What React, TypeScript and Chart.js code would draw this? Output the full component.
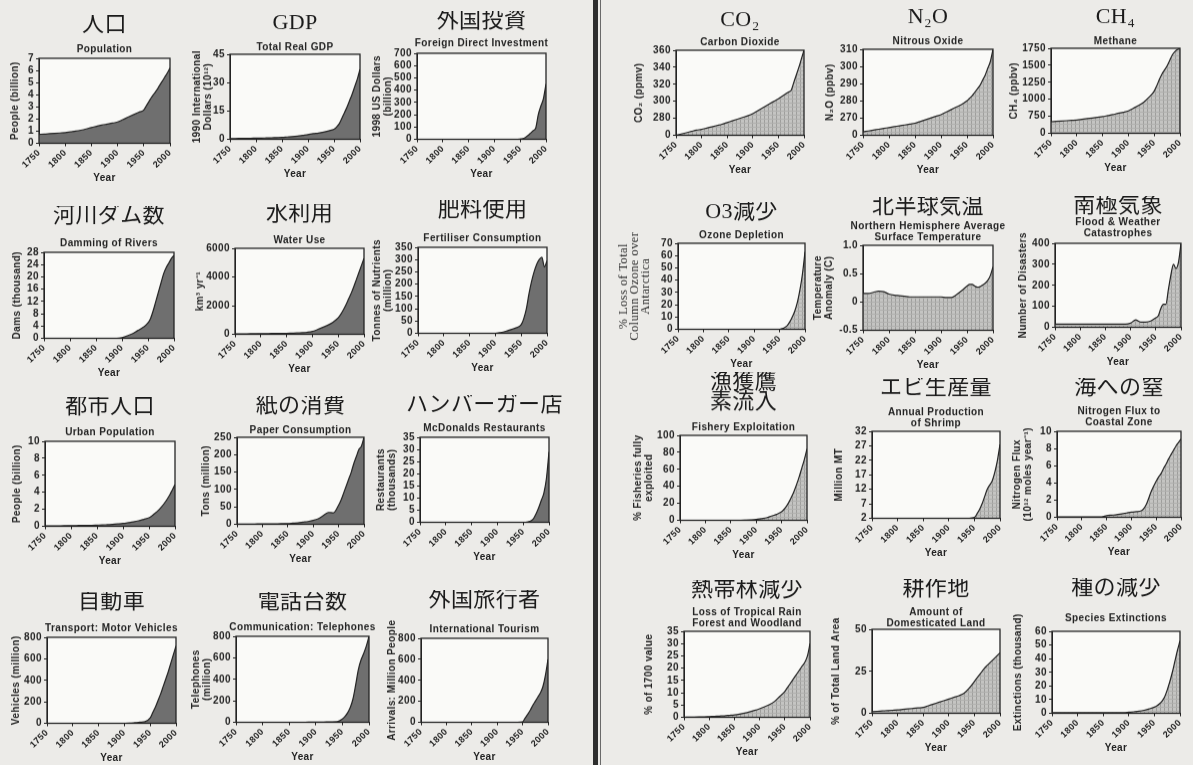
import React, { useEffect, useRef } from 'react';
import { Chart, registerables } from 'chart.js';

Chart.register(...registerables);

const SANS = "'Liberation Sans', Arial, sans-serif";
const SERIF_JP = "'Liberation Serif', 'Noto Sans CJK JP', serif";
const SERIF = "'Liberation Serif', 'DejaVu Serif', serif";

// ---------- data ----------
const YEARS = [1750, 1760, 1770, 1780, 1790, 1800, 1810, 1820, 1830, 1840, 1850, 1860, 1870, 1880, 1890, 1900, 1910, 1920, 1930, 1940, 1950, 1955, 1960, 1965, 1970, 1975, 1980, 1985, 1990, 1995, 2000];
const X_TICKS = [1750, 1800, 1850, 1900, 1950, 2000];

const POPULATION = [0.74, 0.76, 0.79, 0.82, 0.85, 0.88, 0.94, 1.0, 1.08, 1.18, 1.3, 1.4, 1.5, 1.58, 1.66, 1.76, 1.95, 2.15, 2.35, 2.55, 2.75, 3.1, 3.45, 3.8, 4.1, 4.4, 4.75, 5.1, 5.45, 5.8, 6.2];
const GDP = [0.4, 0.4, 0.45, 0.5, 0.5, 0.6, 0.6, 0.7, 0.8, 0.9, 1.0, 1.2, 1.4, 1.7, 2.1, 2.5, 3.0, 3.3, 3.8, 4.5, 5.3, 6.5, 8.2, 11, 14, 17, 20.5, 24, 28, 32, 37];
const FDI = [0, 0, 0, 0, 0, 0, 0, 0, 0, 0, 0, 0, 0, 0, 0, 0, 0, 0, 0, 0, 2, 5, 15, 30, 50, 70, 90, 200, 270, 330, 450];
const DAMS = [0, 0, 0, 0, 0, 0, 0, 0, 0, 0, 0, 0, 0, 0, 0, 0.2, 0.8, 1.5, 2.5, 3.5, 5, 6.5, 9, 12, 15, 18, 21, 23, 24.5, 26, 27];
const WATER = [30, 32, 35, 38, 40, 45, 50, 55, 60, 65, 70, 80, 90, 110, 140, 200, 330, 480, 640, 850, 1150, 1400, 1700, 2050, 2450, 2850, 3300, 3800, 4300, 4800, 5300];
const FERTILISER = [0, 0, 0, 0, 0, 0, 0, 0, 0, 0, 0, 0, 0, 0, 0, 0, 3, 8, 15, 22, 35, 60, 100, 160, 210, 250, 280, 300, 310, 270, 295];
const URBAN = [0.05, 0.05, 0.06, 0.06, 0.07, 0.08, 0.09, 0.1, 0.11, 0.12, 0.14, 0.16, 0.19, 0.22, 0.27, 0.33, 0.42, 0.52, 0.65, 0.82, 1.0, 1.2, 1.45, 1.7, 2.0, 2.35, 2.75, 3.2, 3.7, 4.3, 4.9];
const PAPER = [0.5, 0.5, 0.6, 0.7, 0.8, 0.9, 1, 1.2, 1.4, 1.7, 2, 3, 4, 6, 8, 11, 16, 25, 34, 33, 55, 70, 90, 110, 130, 150, 175, 195, 215, 225, 250];
const MCDONALDS = [0, 0, 0, 0, 0, 0, 0, 0, 0, 0, 0, 0, 0, 0, 0, 0, 0, 0, 0, 0, 0, 0, 0.2, 0.6, 1.5, 3.5, 6, 9, 12, 18, 29];
const VEHICLES = [0, 0, 0, 0, 0, 0, 0, 0, 0, 0, 0, 0, 0, 0, 0, 0.1, 1, 5, 10, 15, 50, 100, 150, 210, 270, 340, 410, 480, 560, 640, 720];
const TELEPHONES = [0, 0, 0, 0, 0, 0, 0, 0, 0, 0, 0, 0, 0, 0.1, 0.5, 1, 2, 3, 4, 5, 30, 55, 90, 140, 220, 350, 490, 580, 640, 710, 800];
const TOURISM = [0, 0, 0, 0, 0, 0, 0, 0, 0, 0, 0, 0, 0, 0, 0, 0, 0, 0, 0, 0, 5, 40, 75, 115, 160, 200, 240, 280, 340, 450, 600];

const CO2 = [260, 261.5, 263, 264.5, 266, 267, 268.5, 270, 271.5, 273, 275, 277, 279, 281, 283, 285.5, 289, 292.5, 296, 299.5, 303, 305, 307, 309, 311, 313, 322, 331, 340, 350, 360];
const N2O = [262, 262.5, 263, 263.5, 264, 264.5, 265, 265.5, 266, 266.5, 267, 268, 269, 270, 271, 272, 273.5, 275, 276.5, 278, 280, 281.5, 283, 285, 287, 289, 292, 295, 299, 303, 310];
const CH4 = [670, 675, 680, 685, 690, 695, 705, 715, 725, 735, 745, 760, 775, 795, 810, 830, 870, 910, 960, 1030, 1120, 1200, 1290, 1370, 1430, 1490, 1570, 1650, 1700, 1730, 1750];
const OZONE = [0, 0, 0, 0, 0, 0, 0, 0, 0, 0, 0, 0, 0, 0, 0, 0, 0, 0, 0, 0, 0, 0.5, 1.5, 3, 6, 10, 15, 22, 32, 45, 63];
const TEMPERATURE = [0.15, 0.15, 0.17, 0.19, 0.18, 0.14, 0.12, 0.11, 0.1, 0.09, 0.09, 0.09, 0.09, 0.09, 0.09, 0.09, 0.08, 0.08, 0.13, 0.2, 0.28, 0.31, 0.31, 0.28, 0.26, 0.27, 0.3, 0.33, 0.38, 0.47, 0.62];
const DISASTERS = [15, 15, 15, 15, 15, 15, 15, 15, 15, 15, 15, 15, 15, 15, 15, 20, 35, 25, 25, 30, 45, 55, 90, 110, 110, 180, 250, 300, 280, 310, 400];
const FISHERY = [0, 0, 0, 0, 0, 0, 0, 0, 0, 0, 0, 0, 0, 0.2, 0.5, 1, 2, 3, 5, 7, 10, 13, 17, 22, 28, 35, 43, 52, 62, 72, 84];
const SHRIMP = [2, 2, 2, 2, 2, 2, 2, 2, 2, 2, 2, 2, 2, 2, 2, 2, 2, 2, 2, 2, 2.3, 3.5, 5, 7, 9.5, 12, 13.5, 15, 18, 22, 27.5];
const NITROGEN = [0.05, 0.05, 0.05, 0.05, 0.05, 0.05, 0.05, 0.05, 0.05, 0.05, 0.2, 0.25, 0.3, 0.4, 0.5, 0.6, 0.65, 0.75, 1.5, 3.0, 4.2, 4.7, 5.1, 5.7, 6.2, 6.8, 7.3, 7.8, 8.3, 8.7, 9.1];
const TROPICAL = [0, 0.05, 0.1, 0.15, 0.2, 0.3, 0.4, 0.5, 0.6, 0.8, 1.0, 1.3, 1.7, 2.2, 2.8, 3.5, 4.3, 5.2, 6.5, 8.5, 10.5, 12, 13.5, 15, 16.5, 18, 19.5, 21, 22.5, 25, 30];
const DOMESTICATED = [1, 1.2, 1.4, 1.6, 1.8, 2, 2.3, 2.6, 2.9, 3.2, 3.5, 4.5, 5.5, 6.5, 7.5, 8.5, 9.5, 10.5, 12, 15, 19, 21, 23, 25, 27, 28.5, 30, 31.5, 33, 34.5, 36];
const SPECIES = [0.5, 0.5, 0.5, 0.5, 0.5, 0.5, 0.5, 0.5, 0.5, 0.5, 0.5, 0.5, 0.5, 0.5, 0.5, 0.8, 1.1, 1.5, 2.2, 3.2, 4.5, 5.5, 7, 9, 12, 17, 23, 30, 38, 46, 53];

// ---------- layout / style ----------
const YW = 72;      // y-axis box width (and symmetric right spacer)
const TL = 20;      // Japanese title line height
const SL = 11;      // English subtitle line height
const YEAR_GAP = 35;
const XH = YEAR_GAP + 5.5;
const LEFT_FILL = '#6f6f6f';
const PLOT_BG = '#fafaf8';
const INK = '#242424';

type Panel = {
  jp: string | string[];
  en: string | string[];
  ylab: string | string[];
  data: number[];
  min: number;
  max: number;
  step: number;
  side: 'L' | 'R';
  zeroBase?: boolean;
  fixed1?: boolean;
  serifY?: boolean;
  box: [number, number, number, number];
  jpY: number;
  subY: number;
  gap: number;
};

const PANELS: Panel[] = [
  { jp: '人口', en: 'Population', ylab: 'People (billion)', data: POPULATION, min: 0, max: 7, step: 1, side: 'L', box: [39, 58, 170, 143], jpY: 25, subY: 49, gap: 24 },
  { jp: 'GDP', en: 'Total Real GDP', ylab: ['1990 International', 'Dollars (10¹²)'], data: GDP, min: 0, max: 45, step: 15, side: 'L', box: [230, 54, 360, 139], jpY: 23, subY: 47, gap: 33 },
  { jp: '外国投資', en: 'Foreign Direct Investment', ylab: ['1998 US Dollars', '(billion)'], data: FDI, min: 0, max: 700, step: 100, side: 'L', box: [417, 53, 546, 139], jpY: 21, subY: 43, gap: 40 },
  { jp: '河川ダム数', en: 'Damming of Rivers', ylab: 'Dams (thousand)', data: DAMS, min: 0, max: 28, step: 4, side: 'L', box: [44, 252, 174, 338], jpY: 216, subY: 243, gap: 27 },
  { jp: '水利用', en: 'Water Use', ylab: 'km³ yr⁻¹', data: WATER, min: 0, max: 6000, step: 2000, side: 'L', box: [235, 248, 364, 334], jpY: 214, subY: 240, gap: 35 },
  { jp: '肥料使用', en: 'Fertiliser Consumption', ylab: ['Tonnes of Nutrients', '(million)'], data: FERTILISER, min: 0, max: 350, step: 50, side: 'L', box: [418, 247, 547, 333], jpY: 210, subY: 238, gap: 41 },
  { jp: '都市人口', en: 'Urban Population', ylab: 'People (billion)', data: URBAN, min: 0, max: 10, step: 2, side: 'L', box: [45, 441, 175, 526], jpY: 407, subY: 432, gap: 28 },
  { jp: '紙の消費', en: 'Paper Consumption', ylab: 'Tons (million)', data: PAPER, min: 0, max: 250, step: 50, side: 'L', box: [237, 437, 364, 524], jpY: 406, subY: 430, gap: 31 },
  { jp: 'ハンバーガー店', en: 'McDonalds Restaurants', ylab: ['Restaurants', '(thousands)'], data: MCDONALDS, min: 0, max: 35, step: 5, side: 'L', box: [420, 437, 549, 522], jpY: 405, subY: 428, gap: 39 },
  { jp: '自動車', en: 'Transport: Motor Vehicles', ylab: 'Vehicles (million)', data: VEHICLES, min: 0, max: 800, step: 200, side: 'L', box: [47, 637, 176, 723], jpY: 602, subY: 628, gap: 31 },
  { jp: '電話台数', en: 'Communication: Telephones', ylab: ['Telephones', '(million)'], data: TELEPHONES, min: 0, max: 800, step: 200, side: 'L', box: [236, 636, 369, 722], jpY: 602, subY: 627, gap: 40 },
  { jp: '外国旅行者', en: 'International Tourism', ylab: 'Arrivals: Million People', data: TOURISM, min: 0, max: 800, step: 200, side: 'L', box: [421, 638, 548, 722], jpY: 600, subY: 629, gap: 29 },

  { jp: 'CO₂', en: 'Carbon Dioxide', ylab: 'CO₂ (ppmv)', data: CO2, min: 260, max: 360, step: 20, side: 'R', zeroBase: true, box: [676, 50, 804, 135], jpY: 20, subY: 42, gap: 37 },
  { jp: 'N₂O', en: 'Nitrous Oxide', ylab: 'N₂O (ppbv)', data: N2O, min: 260, max: 310, step: 10, side: 'R', zeroBase: true, box: [863, 49, 993, 135], jpY: 17, subY: 41, gap: 33 },
  { jp: 'CH₄', en: 'Methane', ylab: 'CH₄ (ppbv)', data: CH4, min: 500, max: 1750, step: 250, side: 'R', zeroBase: true, box: [1051, 48, 1180, 133], jpY: 17, subY: 41, gap: 37 },
  { jp: 'O3減少', en: 'Ozone Depletion', ylab: ['% Loss of Total', 'Column Ozone over', 'Antarctica'], serifY: true, data: OZONE, min: 0, max: 70, step: 10, side: 'R', box: [678, 243, 805, 329], jpY: 212, subY: 235, gap: 54 },
  { jp: '北半球気温', en: ['Northern Hemisphere Average', 'Surface Temperature'], ylab: ['Temperature', 'Anomaly (C)'], data: TEMPERATURE, min: -0.5, max: 1, step: 0.5, fixed1: true, side: 'R', box: [863, 245, 993, 330], jpY: 207, subY: 226, gap: 45 },
  { jp: '南極気象', en: ['Flood & Weather', 'Catastrophes'], ylab: 'Number of Disasters', data: DISASTERS, min: 0, max: 400, step: 100, side: 'R', box: [1055, 243, 1181, 327], jpY: 206, subY: 222, gap: 32 },
  { jp: ['漁獲鷹', '素流入'], en: 'Fishery Exploitation', ylab: ['% Fisheries fully', 'exploited'], data: FISHERY, min: 0, max: 100, step: 20, side: 'R', box: [680, 435, 807, 520], jpY: 382, subY: 427, gap: 42 },
  { jp: 'エビ生産量', en: ['Annual Production', 'of Shrimp'], ylab: 'Million MT', data: SHRIMP, min: 2, max: 32, step: 5, side: 'R', box: [872, 431, 1000, 518], jpY: 388, subY: 412, gap: 33 },
  { jp: '海への窒', en: ['Nitrogen Flux to', 'Coastal Zone'], ylab: ['Nitrogen Flux', '(10¹² moles year⁻¹)'], data: NITROGEN, min: 0, max: 10, step: 2, side: 'R', box: [1057, 431, 1181, 517], jpY: 388, subY: 411, gap: 40 },
  { jp: '熱帯林減少', en: ['Loss of Tropical Rain', 'Forest and Woodland'], ylab: '% of 1700 value', data: TROPICAL, min: 0, max: 35, step: 5, side: 'R', box: [684, 631, 810, 717], jpY: 590, subY: 612, gap: 35 },
  { jp: '耕作地', en: ['Amount of', 'Domesticated Land'], ylab: '% of Total Land Area', data: DOMESTICATED, min: 0, max: 50, step: 25, side: 'R', box: [872, 629, 1000, 713], jpY: 589, subY: 612, gap: 36 },
  { jp: '種の減少', en: 'Species Extinctions', ylab: 'Extinctions (thousand)', data: SPECIES, min: 0, max: 60, step: 10, side: 'R', box: [1052, 631, 1180, 713], jpY: 588, subY: 618, gap: 34 },
];

function makePattern(ctx: CanvasRenderingContext2D) {
  const c = document.createElement('canvas');
  c.width = 4;
  c.height = 4;
  const g = c.getContext('2d')!;
  g.fillStyle = '#c4c4c2';
  g.fillRect(0, 0, 4, 4);
  g.fillStyle = '#9e9e9c';
  g.fillRect(0, 0, 1, 4);
  g.fillStyle = '#b0b0ae';
  g.fillRect(0, 0, 4, 1);
  return ctx.createPattern(c, 'repeat');
}

const framePlugin = {
  id: 'frame',
  beforeDraw(chart: any) {
    const { ctx, chartArea: a } = chart;
    try {
      (ctx as any).letterSpacing = '0.4px';
    } catch (e) {
      /* unsupported */
    }
    ctx.save();
    ctx.fillStyle = PLOT_BG;
    ctx.fillRect(a.left, a.top, a.width, a.height);
    ctx.restore();
  },
  afterDatasetsDraw(chart: any) {
    const { ctx, chartArea: a } = chart;
    ctx.save();
    ctx.strokeStyle = INK;
    ctx.lineWidth = 1.3;
    ctx.strokeRect(a.left, a.top, a.width, a.height);
    ctx.restore();
  },
};

function PanelChart({ p }: { p: Panel }) {
  const ref = useRef<HTMLCanvasElement>(null);
  const [x0, y0, x1, y1] = p.box;
  const nJ = Array.isArray(p.jp) ? p.jp.length : 1;
  const nS = Array.isArray(p.en) ? p.en.length : 1;
  const top0 = p.jpY - TL / 2;
  const tpb = Math.max(0, p.subY - SL / 2 - top0 - nJ * TL);
  const spb = Math.max(0, y0 - (top0 + nJ * TL + tpb) - nS * SL);
  const top = y0 - (nJ * TL + tpb + nS * SL + spb);
  const left = x0 - YW;
  const width = x1 - x0 + 2 * YW;
  const height = y1 + XH - top;
  const yLH = p.serifY ? 11 : 11;
  const yTitlePad = YW - p.gap - yLH / 2;

  useEffect(() => {
    const canvas = ref.current!;
    const ctx = canvas.getContext('2d')!;
    const fill: any = p.side === 'R' ? makePattern(ctx) : LEFT_FILL;
    const points = YEARS.map((yr, i) => ({ x: yr, y: p.data[i] }));
    const chart = new Chart(ctx, {
      type: 'line',
      data: {
        datasets: [
          {
            data: points,
            xAxisID: 'x',
            yAxisID: 'y',
            borderColor: INK,
            borderWidth: 1.2,
            backgroundColor: fill,
            fill: 'start',
            pointRadius: 0,
            cubicInterpolationMode: 'monotone',
          } as any,
        ],
      },
      options: {
        responsive: false,
        maintainAspectRatio: false,
        animation: false,
        events: [],
        layout: { padding: 0 },
        plugins: {
          legend: { display: false },
          tooltip: { enabled: false },
          title: {
            display: true,
            text: p.jp,
            fullSize: true,
            color: '#1a1a1a',
            font: { family: SERIF_JP, size: 22, weight: 'normal', lineHeight: TL + 'px' } as any,
            padding: { top: 0, bottom: tpb },
          },
          subtitle: {
            display: true,
            text: p.en,
            fullSize: true,
            color: INK,
            font: { family: SANS, size: 10, weight: 'bold', lineHeight: SL + 'px' } as any,
            padding: { top: 0, bottom: spb },
          },
        },
        scales: {
          x: {
            type: 'linear',
            position: 'bottom',
            min: 1750,
            max: 2000,
            afterBuildTicks: (s: any) => {
              s.ticks = X_TICKS.map((v) => ({ value: v }));
            },
            ticks: {
              autoSkip: false,
              minRotation: 45,
              maxRotation: 45,
              padding: 1,
              color: INK,
              font: { family: SANS, size: 9, weight: 'bold' },
              callback: (v: any) => String(v),
            },
            grid: { drawOnChartArea: false, drawTicks: true, tickLength: 3, color: INK },
            border: { display: true, color: INK },
            title: {
              display: true,
              text: 'Year',
              color: INK,
              font: { family: SANS, size: 10, weight: 'bold', lineHeight: '11px' } as any,
              padding: { top: 0, bottom: 0 },
            },
            afterFit: (s: any) => {
              s.height = XH;
              s.paddingLeft = 0;
              s.paddingRight = 0;
            },
          } as any,
          y: {
            type: 'linear',
            position: 'left',
            min: p.min,
            max: p.max,
            ticks: {
              stepSize: p.step,
              autoSkip: false,
              padding: 2,
              color: INK,
              font: { family: SANS, size: 10, weight: 'bold' },
              callback: (v: any) => {
                const n = Number(v);
                if (p.zeroBase && Math.abs(n - p.min) < 1e-9) return '0';
                if (p.fixed1) return Math.abs(n) < 1e-9 ? '0' : n.toFixed(1);
                return String(Math.round(n * 1000) / 1000);
              },
            },
            grid: { drawOnChartArea: false, drawTicks: true, tickLength: 3, color: INK },
            border: { display: true, color: INK },
            title: {
              display: true,
              text: p.ylab,
              color: p.serifY ? '#303030' : INK,
              font: p.serifY
                ? ({ family: SERIF, size: 12.5, weight: 'normal', lineHeight: yLH + 'px' } as any)
                : ({ family: SANS, size: 10, weight: 'bold', lineHeight: yLH + 'px' } as any),
              padding: { top: yTitlePad, bottom: 0 },
            },
            afterFit: (s: any) => {
              s.width = YW;
              s.paddingTop = 0;
              s.paddingBottom = 0;
            },
          } as any,
          yR: {
            type: 'linear',
            position: 'right',
            display: true,
            grid: { display: false, drawTicks: false },
            ticks: { display: false },
            border: { display: false },
            afterFit: (s: any) => {
              s.width = YW;
              s.paddingTop = 0;
              s.paddingBottom = 0;
            },
          } as any,
        },
      },
      plugins: [framePlugin],
    } as any);
    return () => chart.destroy();
  }, []);

  return (
    <canvas
      ref={ref}
      width={width}
      height={height}
      style={{ position: 'absolute', left, top, width, height }}
    />
  );
}

export default function App() {
  return (
    <div
      style={{
        position: 'fixed',
        left: 0,
        top: 0,
        width: 1193,
        height: 765,
        background: '#ecebe8',
        overflow: 'hidden',
      }}
    >
      <div style={{ position: 'absolute', left: 593, top: 0, width: 5, height: 765, background: '#2e2e2e' }} />
      <div style={{ position: 'absolute', left: 600, top: 0, width: 1, height: 765, background: '#6a6a6a' }} />
      {PANELS.map((p, i) => (
        <PanelChart key={i} p={p} />
      ))}
    </div>
  );
}
